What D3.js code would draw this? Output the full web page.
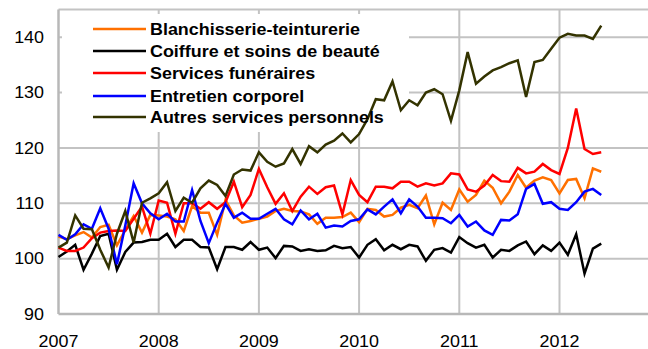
<!DOCTYPE html>
<html>
<head>
<meta charset="utf-8">
<script src="https://cdn.jsdelivr.net/npm/d3@7"></script>
<style>
  html, body { margin: 0; padding: 0; background: #fff; }
  svg { display: block; }
  text { font-family: "Liberation Sans", Arial, sans-serif; fill: #000; }
</style>
</head>
<body>
<svg id="chart" width="648" height="349"></svg>
<script>
// Monthly indices, January 2007 to June 2012 (base 100)
const years = [2007, 2008, 2009, 2010, 2011, 2012];
const yTicks = [90, 100, 110, 120, 130, 140];

const seriesNames = [
  "Blanchisserie-teinturerie",
  "Coiffure et soins de beauté",
  "Services funéraires",
  "Entretien corporel",
  "Autres services personnels"
];
const seriesColors = ["#ff7000", "#000000", "#ff0000", "#0000ff", "#333300"];

const blanchisserie = [
  104.0, 103.5, 104.2, 104.8, 103.8, 105.7, 106.1, 102.4, 105.2, 107.7, 104.7, 107.9,
  107.8, 107.6, 107.1, 105.0, 109.5, 108.3, 108.3, 104.3, 110.6, 107.8, 106.5, 106.8,
  107.2, 107.6, 108.6, 109.0, 108.6, 108.5, 108.0, 106.3, 107.4, 107.4, 107.5, 108.3,
  106.6, 109.0, 108.8, 107.6, 107.9, 109.2, 109.7, 109.1, 111.4, 106.2, 110.1, 108.8,
  112.5, 110.3, 111.5, 114.1, 112.8, 110.0, 112.1, 115.1, 112.8, 114.1, 114.7, 114.2,
  111.8, 114.2, 114.4, 110.9, 116.3, 115.7
];
const coiffure = [
  100.3, 101.3, 102.5, 98.0, 100.9, 104.1, 104.5, 98.0, 101.2, 102.9, 103.0, 103.4,
  103.4, 104.5, 102.1, 103.4, 103.4, 102.1, 102.0, 98.1, 102.1, 102.1, 101.6, 103.0,
  101.6, 102.0, 100.1, 102.3, 102.2, 101.4, 101.7, 101.4, 101.5, 102.3, 101.9, 102.1,
  100.2, 102.5, 103.5, 101.5, 102.5, 101.7, 102.5, 102.2, 99.6, 101.6, 101.9, 101.1,
  103.9, 102.8, 102.0, 102.5, 100.2, 101.6, 101.4, 102.4, 103.1, 100.8, 102.4, 101.4,
  102.9, 100.7, 104.4, 97.3, 101.8, 102.7
];
const funeraires = [
  102.0, 101.4, 101.4, 102.0, 103.7, 104.7, 105.0, 105.1, 105.0, 107.2, 109.4, 104.5,
  110.5, 110.1, 104.5, 110.0, 110.0, 109.0, 110.2, 109.0, 110.2, 113.9, 109.3, 111.5,
  116.2, 112.9, 109.9, 111.8, 108.6, 111.2, 113.0, 111.7, 112.9, 113.2, 108.0, 114.2,
  111.5, 110.2, 113.0, 113.0, 112.7, 113.9, 113.9, 113.0, 113.6, 113.2, 113.6, 115.4,
  115.2, 112.5, 112.1, 113.2, 115.1, 114.0, 113.9, 116.4, 115.4, 115.7, 117.1, 116.0,
  115.3, 120.0, 127.1, 119.8, 118.9, 119.2
];
const entretien = [
  104.3, 103.4, 104.4, 106.2, 105.4, 109.1, 105.4, 99.0, 106.0, 113.6, 110.0, 108.2,
  107.1, 108.1, 106.7, 106.7, 112.4, 106.8, 102.8, 106.5, 109.9, 107.4, 108.3, 107.2,
  107.2, 108.1, 109.0, 107.1, 106.2, 108.7, 107.1, 108.1, 105.6, 106.0, 105.8, 106.8,
  107.1, 108.9, 108.0, 109.4, 110.7, 108.2, 110.7, 109.4, 107.4, 107.4, 107.3, 106.4,
  107.9, 105.8, 106.7, 105.1, 104.3, 107.0, 106.9, 108.0, 112.6, 113.5, 109.9, 110.2,
  109.0, 108.8, 110.2, 112.1, 112.6, 111.5
];
const autres = [
  102.0, 102.9, 107.8, 105.4, 105.3, 101.6, 98.4, 104.5, 108.6, 102.9, 110.1, 110.9,
  111.8, 113.8, 108.6, 111.0, 110.1, 112.7, 114.1, 113.3, 111.3, 115.2, 116.1, 115.9,
  119.2, 117.5, 116.6, 117.2, 119.8, 117.1, 120.3, 119.2, 120.6, 121.3, 122.6, 121.0,
  122.5, 125.2, 128.8, 128.6, 132.0, 126.8, 128.6, 127.7, 130.0, 130.6, 129.7, 124.9,
  130.4, 137.3, 131.6, 132.9, 134.0, 134.6, 135.3, 135.8, 129.2, 135.5, 135.9, 137.9,
  139.9, 140.6, 140.3, 140.3, 139.7, 142.1
];

const seriesValues = [blanchisserie, coiffure, funeraires, entretien, autres];

const svg = d3.select("#chart");
const plot = { left: 58.5, right: 648, top: 9.5, bottom: 314 };
const stretch = 1.12; // text is set slightly wide

// month index 0 = January 2007; plot runs a little past the last year label
const x = d3.scaleLinear().domain([0, 70.6]).range([plot.left, plot.right]);
const y = d3.scaleLinear().domain([90, 145]).range([plot.bottom, plot.top]);

const gridColor = "#c3c3c3";

// horizontal gridlines
svg.append("g").selectAll("line")
  .data(yTicks.filter(v => v > 90))
  .join("line")
  .attr("x1", plot.left).attr("x2", plot.right)
  .attr("y1", d => y(d)).attr("y2", d => y(d))
  .attr("stroke", gridColor).attr("stroke-width", 2);

// top border of the plot area
svg.append("line")
  .attr("x1", plot.left).attr("x2", plot.right)
  .attr("y1", y(145)).attr("y2", y(145))
  .attr("stroke", gridColor).attr("stroke-width", 2);

// vertical gridlines at each January
svg.append("g").selectAll("line")
  .data(years.slice(1))
  .join("line")
  .attr("x1", d => x((d - 2007) * 12)).attr("x2", d => x((d - 2007) * 12))
  .attr("y1", plot.top).attr("y2", plot.bottom)
  .attr("stroke", gridColor).attr("stroke-width", 2);

// axes
svg.append("line")
  .attr("x1", plot.left).attr("x2", plot.left)
  .attr("y1", plot.top).attr("y2", plot.bottom)
  .attr("stroke", "#b8b8b8").attr("stroke-width", 2.5);
svg.append("line")
  .attr("x1", plot.left).attr("x2", plot.right)
  .attr("y1", plot.bottom).attr("y2", plot.bottom)
  .attr("stroke", "#b8b8b8").attr("stroke-width", 2.5);

// y tick labels
svg.append("g").selectAll("text")
  .data(yTicks)
  .join("text")
  .attr("transform", d => `translate(44,${y(d)}) scale(${stretch},1)`)
  .attr("dy", "0.36em")
  .attr("text-anchor", "end")
  .attr("font-size", 16)
  .text(d => d);

// x tick labels
svg.append("g").selectAll("text")
  .data(years)
  .join("text")
  .attr("transform", d => `translate(${x((d - 2007) * 12)},346.5) scale(${stretch},1)`)
  .attr("text-anchor", "middle")
  .attr("font-size", 16)
  .text(d => d);

// legend background
const legend = { x: 62, y: 14, w: 347, h: 118 };
svg.append("rect")
  .attr("x", legend.x).attr("y", legend.y)
  .attr("width", legend.w).attr("height", legend.h)
  .attr("fill", "#fff");

// series lines
const line = d3.line()
  .x((d, i) => x(i))
  .y(d => y(d));

svg.append("g").selectAll("path")
  .data(seriesValues)
  .join("path")
  .attr("d", d => line(d))
  .attr("fill", "none")
  .attr("stroke", (d, i) => seriesColors[i])
  .attr("stroke-width", 2.5)
  .attr("stroke-linejoin", "miter");

// legend entries
const rowY = [29, 51, 73, 96, 117];
const lg = svg.append("g").selectAll("g")
  .data(seriesNames)
  .join("g")
  .attr("transform", (d, i) => `translate(0,${rowY[i]})`);
lg.append("line")
  .attr("x1", 93).attr("x2", 146)
  .attr("stroke", (d, i) => seriesColors[i])
  .attr("stroke-width", 2.5);
lg.append("text")
  .attr("transform", `translate(150,0) scale(${stretch},1)`)
  .attr("dy", "0.36em")
  .attr("font-size", 16)
  .attr("font-weight", "bold")
  .text(d => d);
</script>
</body>
</html>
